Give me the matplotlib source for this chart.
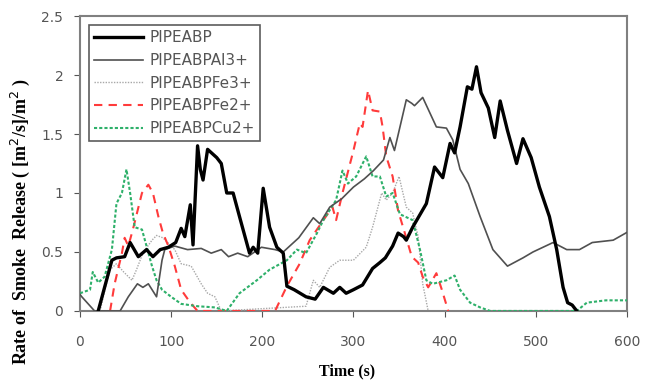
import matplotlib
matplotlib.use("Agg")
import matplotlib.pyplot as plt

# PIPEABP (thick black)
t_abp = [20, 35, 40, 49, 55, 64, 73, 80, 88, 97, 105, 111, 115, 121, 124, 129, 132,
         135, 140, 150, 155, 161, 168, 175, 186, 190, 195, 201, 208, 216, 223, 227,
         235, 248, 258, 267, 278, 285, 292, 300, 310, 321, 329, 335, 343, 349, 355,
         358, 365, 380, 389, 398, 406, 411, 417, 425, 430, 435, 440, 448, 455, 461,
         469, 479, 486, 495, 504, 515, 523, 530, 535, 540, 545]
v_abp = [0.0, 0.43, 0.45, 0.46, 0.58, 0.46, 0.52, 0.46, 0.52, 0.54, 0.58, 0.7, 0.63,
         0.9, 0.56, 1.4, 1.2, 1.11, 1.37, 1.3, 1.25, 1.0, 1.0, 0.8, 0.49, 0.54, 0.49,
         1.04, 0.71, 0.54, 0.49, 0.21, 0.18, 0.12, 0.1, 0.2, 0.15, 0.2, 0.15, 0.18,
         0.22, 0.36, 0.41, 0.45, 0.55, 0.66, 0.63, 0.6, 0.71, 0.91, 1.22, 1.13, 1.42,
         1.34, 1.56, 1.9, 1.88, 2.07, 1.85, 1.72, 1.47, 1.78, 1.53, 1.25, 1.46, 1.3,
         1.05, 0.8, 0.52, 0.2, 0.07, 0.05, 0.0]

# PIPEABPAl3+ (thin grey)
t_al = [0, 2, 16, 30, 44, 53, 63, 69, 75, 84, 90, 93, 104, 118, 133, 144, 155, 163,
        173, 184, 199, 214, 223, 240, 256, 263, 274, 287, 300, 312, 322, 333, 340,
        345, 358, 364, 367, 376, 391, 402, 409, 417, 426, 439, 453, 469, 486, 497,
        519, 534, 548, 562, 585, 601]
v_al = [0.14, 0.12, 0.0, 0.0, 0.0, 0.12, 0.23, 0.2, 0.23, 0.12, 0.43, 0.52, 0.55, 0.52,
        0.53, 0.49, 0.52, 0.46, 0.49, 0.46, 0.54, 0.52, 0.5, 0.62, 0.79, 0.74, 0.88,
        0.95, 1.05, 1.12, 1.19, 1.28, 1.47, 1.36, 1.79, 1.76, 1.74, 1.81, 1.56, 1.55,
        1.45, 1.2, 1.08, 0.8, 0.52, 0.38, 0.45, 0.5, 0.58, 0.52, 0.52, 0.58, 0.6, 0.67]

# PIPEABPFe3+ (light grey dotted)
t_fe3 = [22, 28, 33, 40, 48, 57, 62, 69, 79, 84, 91, 104, 111, 122, 133, 140, 148,
         155, 248, 256, 263, 274, 285, 300, 314, 321, 331, 336, 343, 350, 358, 365,
         371, 376, 382]
v_fe3 = [0.0, 0.2, 0.35, 0.4, 0.33, 0.26, 0.35, 0.49, 0.6, 0.64, 0.62, 0.52, 0.4,
         0.38, 0.23, 0.15, 0.12, 0.0, 0.04, 0.26, 0.2, 0.37, 0.43, 0.43, 0.54, 0.71,
         1.0, 0.94, 1.0, 1.14, 0.88, 0.83, 0.63, 0.23, 0.0]

# PIPEABPFe2+ (red dashed)
t_fe2 = [33, 38, 46, 49, 53, 58, 68, 75, 80, 86, 91, 97, 104, 111, 121, 129, 214,
         227, 241, 252, 267, 277, 281, 288, 300, 307, 310, 316, 321, 329, 332, 336,
         343, 349, 356, 364, 371, 376, 382, 391, 397, 404]
v_fe2 = [0.0, 0.23, 0.49, 0.62, 0.55, 0.69, 1.0, 1.07, 1.0, 0.8, 0.66, 0.55, 0.38,
         0.18, 0.07, 0.0, 0.0, 0.21, 0.4, 0.6, 0.77, 0.88, 0.77, 1.0, 1.36, 1.59, 1.56,
         1.87, 1.7, 1.69, 1.56, 1.31, 1.14, 0.85, 0.67, 0.46, 0.41, 0.29, 0.2, 0.32,
         0.18, 0.0]

# PIPEABPCu2+ (green dotted)
t_cu = [0, 11, 14, 20, 27, 35, 40, 46, 51, 55, 60, 68, 73, 79, 84, 90, 100, 111, 129,
        148, 161, 175, 194, 208, 227, 238, 248, 260, 267, 281, 288, 294, 303, 314,
        321, 329, 336, 343, 351, 365, 373, 380, 387, 402, 411, 417, 428, 439, 450,
        545, 556, 577, 601]
v_cu = [0.15, 0.18, 0.33, 0.24, 0.29, 0.52, 0.91, 1.0, 1.2, 1.0, 0.71, 0.69, 0.55,
        0.38, 0.26, 0.18, 0.12, 0.06, 0.04, 0.03, 0.0, 0.15, 0.26, 0.35, 0.43, 0.52,
        0.49, 0.66, 0.77, 0.94, 1.19, 1.08, 1.14, 1.31, 1.14, 1.14, 0.97, 1.0, 0.82,
        0.77, 0.52, 0.26, 0.23, 0.26, 0.3, 0.18, 0.07, 0.03, 0.0, 0.0, 0.07, 0.09, 0.09]

fig = plt.figure(figsize=(6.53, 3.82), dpi=100)
ax = fig.add_axes([0.1225, 0.186, 0.8375, 0.772])

ax.plot(t_abp, v_abp, color="black", lw=2.4, label="PIPEABP", zorder=5)
ax.plot(t_al, v_al, color="#505050", lw=1.2, label="PIPEABPAl3+", zorder=4)
ax.plot(t_fe3, v_fe3, color="#a8a8a8", lw=1.0, ls=(0, (1, 1)), label="PIPEABPFe3+", zorder=3)
ax.plot(t_fe2, v_fe2, color="#ff3b3b", lw=1.5, ls=(0, (4, 3)), label="PIPEABPFe2+", zorder=3)
ax.plot(t_cu, v_cu, color="#2eb06a", lw=1.5, ls=(0, (1.5, 1)), label="PIPEABPCu2+", zorder=3)

ax.set_xlim(0, 600)
ax.set_ylim(0, 2.5)
ax.set_xticks([0, 100, 200, 300, 400, 500, 600])
ax.set_yticks([0, 0.5, 1, 1.5, 2, 2.5])
ax.set_yticklabels(["0", "0.5", "1", "1.5", "2", "2.5"])
ax.tick_params(direction="out", colors="#555555", labelsize=10, length=4, pad=8)
ax.tick_params(axis="x", pad=13)
for s in ax.spines.values():
    s.set_color("#808080")
    s.set_linewidth(1.5)

fig.text(347 / 653, 1 - 371 / 382, "Time (s)", family="Liberation Serif",
         fontweight="bold", fontsize=11.5, ha="center", va="center")
fig.text(20 / 653, 1 - 222 / 382, "Rate of  Smoke  Release ( [m$^2$/s]/m$^2$ )",
         family="Liberation Serif", fontweight="bold", fontsize=13,
         rotation=90, ha="center", va="center")

leg = ax.legend(loc="upper left", bbox_to_anchor=(0.008, 0.985), fontsize=11,
                handlelength=3.2, frameon=True, fancybox=False, borderpad=0.35,
                labelspacing=0.5, handletextpad=0.4, borderaxespad=0.3)
leg.get_frame().set_edgecolor("#333333")
leg.get_frame().set_linewidth(1.2)
for txt in leg.get_texts():
    txt.set_color("#555555")

fig.savefig("out.png", dpi=100)
